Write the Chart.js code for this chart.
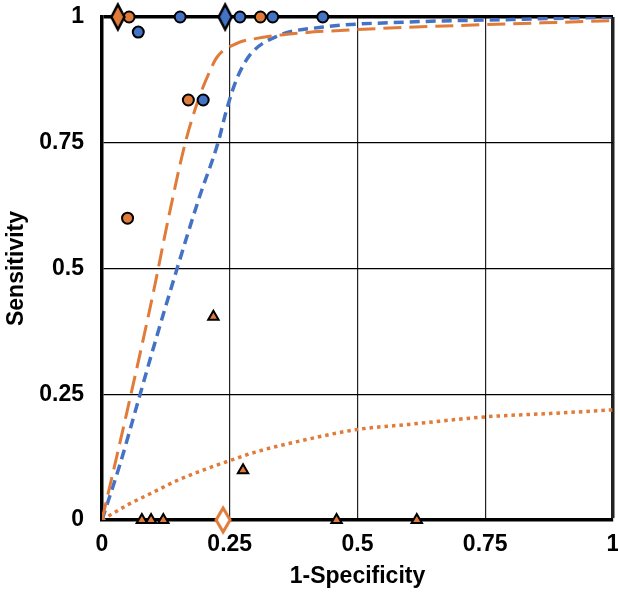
<!DOCTYPE html>
<html>
<head>
<meta charset="utf-8">
<script src="https://cdn.jsdelivr.net/npm/chart.js@4"></script>
<style>
  html, body { margin: 0; padding: 0; background: #fff; overflow: hidden; }
  #wrap { width: 621px; height: 592px; }
</style>
</head>
<body>
<div id="wrap"><canvas id="roc"></canvas></div>
<script>
// tick labels
const tickValues = [0, 0.25, 0.5, 0.75, 1];

// study points (1-specificity, sensitivity)
const orangeCircleX = [0.053, 0.31, 0.169, 0.050];
const orangeCircleY = [1, 1, 0.835, 0.60];
const blueCircleX = [0.071, 0.153, 0.27, 0.334, 0.432, 0.198];
const blueCircleY = [0.97, 1, 1, 1, 1, 0.835];
const orangeTriX = [0.078, 0.096, 0.12, 0.218, 0.276, 0.459, 0.616];
const orangeTriY = [0, 0, 0, 0.404, 0.099, 0, 0];

// summary points
const orangeSummaryX = [0.031];
const orangeSummaryY = [1];
const blueSummaryX = [0.241];
const blueSummaryY = [1];
const openSummaryX = [0.237];
const openSummaryY = [0];

// SROC curves
const orangeCurveX = [0, 0.05, 0.1, 0.13, 0.163, 0.19, 0.21, 0.225, 0.265, 0.3, 0.388, 0.5, 0.75, 0.976, 1];
const orangeCurveY = [0, 0.22, 0.45, 0.6, 0.75, 0.84, 0.89, 0.92, 0.948, 0.957, 0.968, 0.975, 0.985, 0.992, 0.993];
const blueCurveX = [0, 0.035, 0.069, 0.1, 0.147, 0.19, 0.227, 0.245, 0.265, 0.29, 0.343, 0.433, 0.6, 0.8, 1];
const blueCurveY = [0, 0.11, 0.23, 0.34, 0.5, 0.64, 0.75, 0.82, 0.88, 0.925, 0.962, 0.98, 0.99, 0.995, 1];
const dotCurveX = [0, 0.05, 0.1, 0.15, 0.2, 0.25, 0.3, 0.4, 0.5, 0.6, 0.75, 0.9, 1];
const dotCurveY = [0, 0.03, 0.055, 0.08, 0.1, 0.118, 0.135, 0.16, 0.18, 0.19, 0.205, 0.213, 0.219];

const ORANGE = '#E07B39';
const BLUE = '#4472C4';

function pts(xs, ys) {
  return xs.map((x, i) => ({ x: x, y: ys[i] }));
}

// tall diamond marker as an image
function makeDiamond(w, h, fill, stroke, lw) {
  const c = document.createElement('canvas');
  c.width = w + lw * 2;
  c.height = h + lw * 2;
  const g = c.getContext('2d');
  const cx = c.width / 2, cy = c.height / 2;
  g.beginPath();
  g.moveTo(cx, cy - h / 2);
  g.lineTo(cx + w / 2, cy);
  g.lineTo(cx, cy + h / 2);
  g.lineTo(cx - w / 2, cy);
  g.closePath();
  g.fillStyle = fill;
  g.fill();
  g.lineWidth = lw;
  g.strokeStyle = stroke;
  g.lineJoin = 'miter';
  g.stroke();
  return c;
}

const orangeDiamond = makeDiamond(13, 25, ORANGE, '#000', 2.5);
const blueDiamond = makeDiamond(13, 25, BLUE, '#000', 2.5);
const openDiamond = makeDiamond(14, 24, '#fff', ORANGE, 3);

const markerBase = { showLine: false, clip: false, order: 0 };
const curveBase = { showLine: true, pointRadius: 0, fill: false, cubicInterpolationMode: 'monotone', order: 1 };
const labelFont = { family: 'Liberation Sans, Arial', size: 23, weight: 'bold' };

new Chart(document.getElementById('roc'), {
  type: 'scatter',
  data: {
    datasets: [
      Object.assign({}, markerBase, { data: pts(orangeSummaryX, orangeSummaryY), pointStyle: orangeDiamond }),
      Object.assign({}, markerBase, { data: pts(blueSummaryX, blueSummaryY), pointStyle: blueDiamond }),
      Object.assign({}, markerBase, { data: pts(openSummaryX, openSummaryY), pointStyle: openDiamond }),
      Object.assign({}, markerBase, {
        data: pts(orangeCircleX, orangeCircleY), pointStyle: 'circle', pointRadius: 5.5,
        backgroundColor: ORANGE, borderColor: '#000', borderWidth: 2
      }),
      Object.assign({}, markerBase, {
        data: pts(blueCircleX, blueCircleY), pointStyle: 'circle', pointRadius: 5.5,
        backgroundColor: BLUE, borderColor: '#000', borderWidth: 2
      }),
      Object.assign({}, markerBase, {
        data: pts(orangeTriX, orangeTriY), pointStyle: 'triangle', pointRadius: 6,
        backgroundColor: ORANGE, borderColor: '#000', borderWidth: 2
      }),
      Object.assign({}, curveBase, {
        data: pts(orangeCurveX, orangeCurveY), borderColor: ORANGE, borderWidth: 3, borderDash: [18, 8]
      }),
      Object.assign({}, curveBase, {
        data: pts(blueCurveX, blueCurveY), borderColor: BLUE, borderWidth: 3.5, borderDash: [10, 6]
      }),
      Object.assign({}, curveBase, {
        data: pts(dotCurveX, dotCurveY), borderColor: ORANGE, borderWidth: 3.5, borderDash: [3.5, 4]
      })
    ]
  },
  options: {
    responsive: true,
    maintainAspectRatio: false,
    animation: false,
    layout: { padding: { top: 17, right: 4, left: 0, bottom: 0 } },
    plugins: {
      legend: { display: false },
      tooltip: { enabled: false }
    },
    scales: {
      x: {
        type: 'linear',
        min: 0,
        max: 1,
        afterBuildTicks: (axis) => { axis.ticks = tickValues.map(v => ({ value: v })); },
        afterFit: (axis) => {
          axis.height = 72;
          axis.paddingLeft = 0;
          axis.paddingRight = 0;
        },
        grid: {
          color: '#222',
          drawTicks: false,
          lineWidth: (c) => (c.tick && c.tick.value === 1 ? 3.5 : 1.2)
        },
        border: { color: '#000', width: 3.5 },
        ticks: { padding: 11, color: '#000', font: labelFont, callback: (v) => String(v) },
        title: {
          display: true,
          text: '1-Specificity',
          color: '#000',
          padding: { top: 0, bottom: 2 },
          font: labelFont
        }
      },
      y: {
        type: 'linear',
        min: 0,
        max: 1,
        afterBuildTicks: (axis) => { axis.ticks = tickValues.map(v => ({ value: v })); },
        afterFit: (axis) => {
          axis.width = 102;
          axis.paddingTop = 0;
          axis.paddingBottom = 0;
        },
        grid: {
          color: '#000',
          drawTicks: false,
          lineWidth: (c) => (c.tick && c.tick.value === 1 ? 3.5 : 1.2)
        },
        border: { color: '#000', width: 3.5 },
        ticks: { padding: 18, color: '#000', font: labelFont, callback: (v) => String(v) },
        title: {
          display: true,
          text: 'Sensitivity',
          color: '#000',
          padding: { top: 3, bottom: 4 },
          font: labelFont
        }
      }
    }
  }
});
</script>
</body>
</html>
